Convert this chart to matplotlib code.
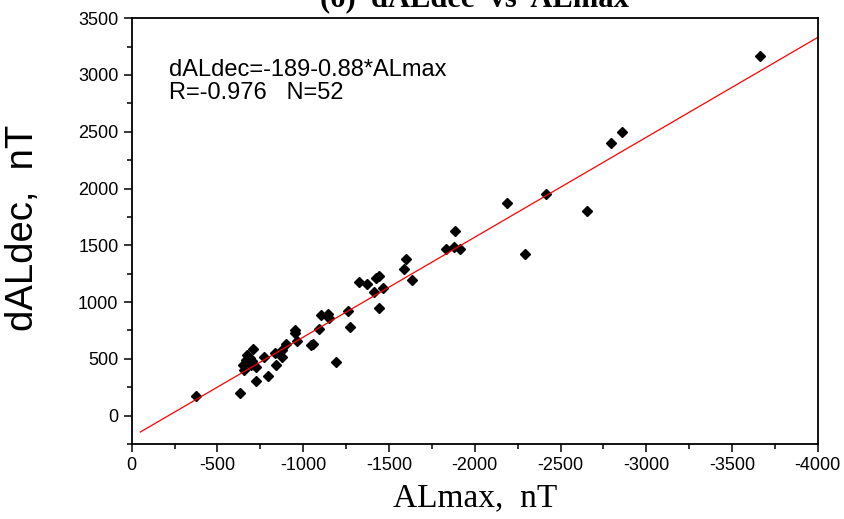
import numpy as np
import matplotlib
matplotlib.use("Agg")
import matplotlib.pyplot as plt
from matplotlib.ticker import MultipleLocator

plt.rcParams["axes.unicode_minus"] = False

# ALmax (nT) and dALdec (nT)
almax = [-374, -630, -707, -649, -664, -688, -703, -653, -727, -769,
         -727, -794, -843, -833, -878, -878, -901, -950, -950, -963,
         -1047, -1056, -1091, -1105, -1143, -1149, -1192, -1263, -1275, -1327,
         -1370, -1424, -1444, -1415, -1463, -1444, -1589, -1599, -1637, -1831,
         -1886, -1880, -1915, -2190, -2291, -2413, -2657, -2795, -2857, -3665,
         -675, -695]
daldec = [176, 200, 588, 450, 488, 509, 479, 406, 429, 517,
          303, 347, 450, 555, 578, 512, 632, 752, 729, 655,
          626, 632, 767, 882, 899, 858, 475, 923, 782, 1175,
          1155, 1208, 1228, 1087, 1122, 950, 1287, 1382, 1192, 1470,
          1625, 1488, 1470, 1876, 1426, 1949, 1802, 2399, 2496, 3166,
          530, 445]

fit_a = -189
fit_b = -0.88
fit_x = [-50, -4000]

fig = plt.figure(figsize=(8.44, 5.19), dpi=100)
ax = fig.add_axes([0.156, 0.1445, 0.813, 0.8205])

ax.plot(almax, daldec, linestyle="none", marker="D", markersize=5.5,
        color="black")
fx = np.array(fit_x)
ax.plot(fx, fit_a + fit_b * fx, color="red", lw=0.9)

ax.set_xlim(0, -4000)
ax.set_ylim(-250, 3500)
ax.xaxis.set_major_locator(MultipleLocator(500))
ax.xaxis.set_minor_locator(MultipleLocator(250))
ax.yaxis.set_major_locator(MultipleLocator(500))
ax.yaxis.set_minor_locator(MultipleLocator(250))
ax.tick_params(which="both", direction="out", top=False, right=False,
               width=1.1, labelsize=13)
ax.tick_params(which="major", length=6)
ax.tick_params(which="minor", length=3.5)
for s in ax.spines.values():
    s.set_linewidth(1.3)

for lab in ax.get_xticklabels() + ax.get_yticklabels():
    lab.set_family(["Liberation Sans", "DejaVu Sans"])

ax.text(0.055, 0.905, "dALdec=-189-0.88*ALmax\nR=-0.976   N=52",
        transform=ax.transAxes, fontsize=17, va="top", ha="left",
        family=["Liberation Sans", "DejaVu Sans"], linespacing=1.1)

ax.set_xlabel("ALmax,  nT", family=["Liberation Serif", "DejaVu Serif"],
              fontsize=24, labelpad=6)
ax.set_ylabel("dALdec,  nT", family=["Liberation Sans", "DejaVu Sans"],
              fontsize=27.5, va="center")
ax.yaxis.set_label_coords(-0.158, 0.507)

fig.text(0.5625, 1 - 6 / 519, "(б)  dALdec  vs  ALmax", ha="center",
         va="baseline", fontsize=22, fontweight="bold",
         family=["Liberation Serif", "DejaVu Serif"])

fig.savefig("out.png", dpi=100, facecolor="white")
